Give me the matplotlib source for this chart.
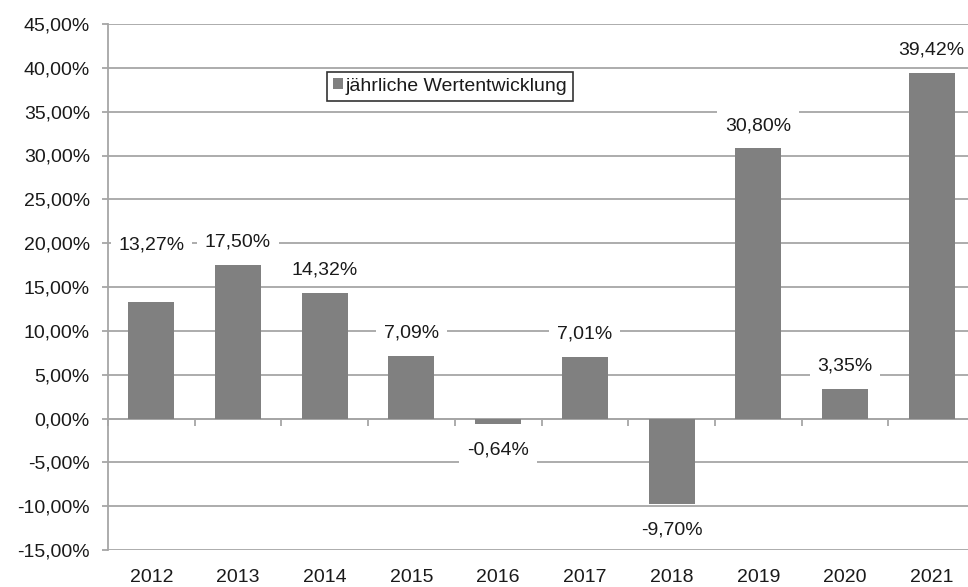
import matplotlib
matplotlib.use("Agg")
import matplotlib.pyplot as plt
from matplotlib.ticker import FuncFormatter

years = ["2012", "2013", "2014", "2015", "2016", "2017", "2018", "2019", "2020", "2021"]
values = [13.27, 17.50, 14.32, 7.09, -0.64, 7.01, -9.70, 30.80, 3.35, 39.42]
series_name = "jährliche Wertentwicklung"
y_ticks = list(range(-15, 50, 5))

plt.rcParams['font.family'] = ['Liberation Sans', 'DejaVu Sans']
TEXT = '#1a1a1a'
GRID = '#a6a6a6'
BAR = '#808080'
FS = 14

fig = plt.figure(figsize=(9.68, 5.87), dpi=100)
ax = fig.add_axes([108/968, 1 - 550/587, 867/968, 526/587])

x = list(range(len(years)))
bars = ax.bar(x, values, width=0.53, color=BAR, label=series_name, zorder=3)

ax.set_xlim(-0.5, len(years) - 0.5)
ax.set_ylim(-15, 45)
ax.set_yticks(y_ticks)
ax.yaxis.set_major_formatter(FuncFormatter(lambda v, p: f"{v:.2f}%".replace('.', ',')))
ax.yaxis.grid(True, color=GRID, linewidth=1.3, zorder=0)
ax.set_axisbelow(True)

for s in ['top', 'right', 'bottom']:
    ax.spines[s].set_visible(False)
ax.spines['left'].set_color(GRID)
ax.spines['left'].set_linewidth(1.3)
ax.tick_params(axis='y', length=4, color=GRID, width=1.3, pad=9, labelsize=FS, labelcolor=TEXT)
ax.set_xticks(x)
ax.set_xticklabels(years)
ax.tick_params(axis='x', length=0, pad=14, labelsize=FS, labelcolor=TEXT)

# zero axis with category tick marks
zero_pos = (0 - (-15)) / 60
sec = ax.secondary_xaxis(zero_pos)
sec.set_xticks([i + 0.5 for i in range(-1, len(years))])
sec.set_xticklabels([])
sec.tick_params(axis='x', direction='out', length=5, color=GRID, width=1.3)
sec.spines['bottom'].set_color(GRID)
sec.spines['bottom'].set_linewidth(1.3)
sec.spines['top'].set_visible(False)

# data labels
for i, v in enumerate(values):
    lab = f"{v:.2f}%".replace('.', ',')
    if v >= 0:
        off = 41 if i == 0 else 16.5
    else:
        off = -19
    ax.annotate(lab, (i, v), xytext=(0, off), textcoords='offset points',
                ha='center', va='center', fontsize=FS, color=TEXT, zorder=4,
                bbox=dict(boxstyle='square,pad=0.4', fc='white', ec='none'))

leg = ax.legend(loc='upper left', bbox_to_anchor=(0.2526, 0.909), fontsize=FS,
                frameon=True, fancybox=False, handlelength=0.5, handleheight=0.5,
                handletextpad=0.15, borderpad=0.3, borderaxespad=0)
leg.get_frame().set_edgecolor('black')
leg.get_frame().set_linewidth(1.2)
for t in leg.get_texts():
    t.set_color(TEXT)

fig.savefig("out.png", dpi=100)
